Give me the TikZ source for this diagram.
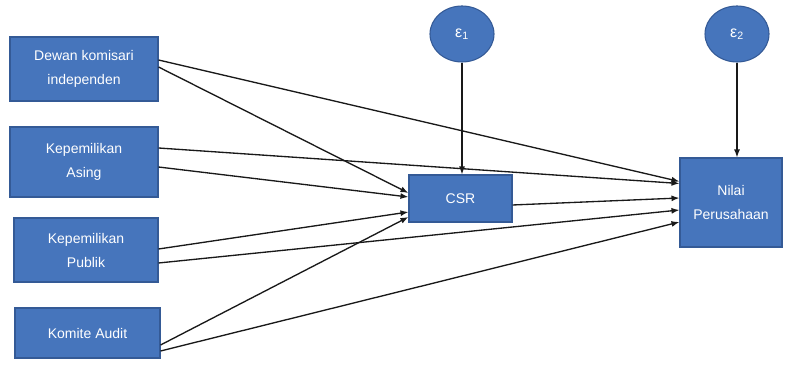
\documentclass[tikz,border=0pt]{standalone}
\usepackage{fontspec}
\setmainfont{Liberation Sans}
\usetikzlibrary{arrows.meta,calc,shapes.geometric}
\definecolor{boxfill}{RGB}{70,117,188}
\definecolor{boxline}{RGB}{52,90,150}
\begin{document}
\begin{tikzpicture}[x=0.75pt,y=-0.75pt,
  box/.style={draw=boxline,line width=0.8pt,fill=boxfill,text=white,align=center,
    font=\fontsize{10.5}{18}\selectfont,inner sep=0pt},
  err/.style={ellipse,draw=boxline,line width=0.8pt,fill=boxfill,text=white,
    minimum width=48pt,minimum height=42pt,inner sep=0pt,font=\fontsize{12}{12}\selectfont},
  arr/.style={draw=black!90,line width=1pt,-{Latex[length=6pt,width=4.5pt]}}]
\useasboundingbox (0,0) rectangle (789,370);
\node[box,minimum width=111pt,minimum height=48pt] (b1) at (84,69) {Dewan komisari\\independen};
\node[box,minimum width=111pt,minimum height=52.5pt] (b2) at (84,162) {Kepemilikan\\Asing};
\node[box,minimum width=108pt,minimum height=48pt] (b3) at (86,250) {Kepemilikan\\Publik};
\node[box,minimum width=108.75pt,minimum height=37.5pt] (b4) at (87.5,333) {Komite Audit};
\node[box,minimum width=77.25pt,minimum height=35.25pt] (csr) at (460.5,198.5) {CSR};
\node[box,minimum width=76.5pt,minimum height=66.75pt] (nilai) at (731,202.5) {Nilai\\Perusahaan};
\node[err] (e1) at (462,34) {ε\textsubscript{1}};
\node[err] (e2) at (737,34) {ε\textsubscript{2}};
% to CSR
\draw[arr] ($(b1.east)+(0,-2)$) -- ($(csr.west)+(0,-5.5)$);
\draw[arr] ($(b2.east)+(0,5)$) -- ($(csr.west)+(0,-1.5)$);
\draw[arr] ($(b3.east)+(0,-1)$) -- ($(csr.west)+(0,13.5)$);
\draw[arr] ($(b4.east)+(0,12)$) -- ($(csr.west)+(0,18.5)$);
% to Nilai
\draw[arr] ($(b1.east)+(0,-9)$) -- ($(nilai.west)+(0,-21)$);
\draw[arr] ($(b2.east)+(0,-14)$) -- ($(nilai.west)+(0,-19)$);
\draw[arr] ($(csr.east)+(0,6.5)$) -- ($(nilai.west)+(0,-4.5)$);
\draw[arr] ($(b3.east)+(0,13)$) -- ($(nilai.west)+(0,7.5)$);
\draw[arr] ($(b4.east)+(0,18)$) -- ($(nilai.west)+(0,19.5)$);
% errors
\draw[arr] (e1) -- (e1 |- csr.north);
\draw[arr] (e2) -- (e2 |- nilai.north);
\end{tikzpicture}
\end{document}
